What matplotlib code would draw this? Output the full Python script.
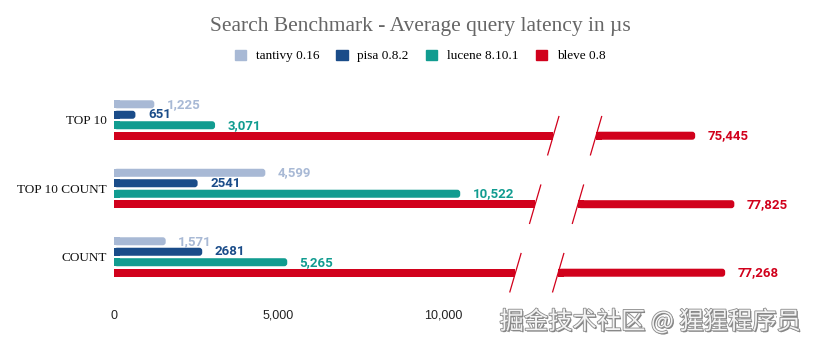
import numpy as np
import matplotlib.pyplot as plt
from matplotlib import patheffects as pe
from matplotlib.patches import Patch, FancyBboxPatch

categories = ['TOP 10', 'TOP 10 COUNT', 'COUNT']
series = ['tantivy 0.16', 'pisa 0.8.2', 'lucene 8.10.1', 'bleve 0.8']
tantivy = [1225, 4599, 1571]
pisa = [651, 2541, 2681]
lucene = [3071, 10522, 5265]
bleve = [75445, 77825, 77268]
colors = ['#a8b9d5', '#1a4c89', '#119c90', '#d1011c']
xticks = [0, 5000, 10000, 15000, 20000]

# bleve is off the scale: the axis is "broken" and the bars are squashed past the break
break_at = [14000, 13450, 12850]
gap = 1300


def squash(v):
    return 0.5 * v - 20060


fig = plt.figure(figsize=(8.18, 3.51), dpi=100)
ax = fig.add_axes([114 / 818, 1 - 300 / 351, 691 / 818, 215 / 351])
ax.set_xlim(0, 21000)
ax.set_ylim(2.628, -0.511)

y = np.arange(len(categories))
step = 0.153
h = 0.117
# rounded right end (~3 px), aspect converts x units to y units
rr = 90
asp = (3.139 / 215) / (21000 / 691)


def rbar(yc, w, left=0, color='k'):
    ax.add_patch(FancyBboxPatch((left, yc - h / 2), w, h, boxstyle=f'round,pad=0,rounding_size={rr}',
                                mutation_aspect=asp, fc=color, ec='none'))
    # keep the left end square
    ax.barh(yc, min(w, 2 * rr), left=left, height=h, color=color)


lab = dict(va='center', ha='left', fontweight='bold', family='Roboto', fontsize=9.5,
           textcoords='offset points', xytext=(9, 0))

for i, vals in enumerate([tantivy, pisa, lucene]):
    yy = y + (i - 1.5) * step
    for yv, v in zip(yy, vals):
        rbar(yv, v, color=colors[i])
        txt = str(v) if i == 1 else f'{v:,}'
        ax.annotate(txt, (v, yv), color=colors[i], **lab)

# bleve bars with the break marks
yb = y + 1.5 * step
for yv, v, b in zip(yb, bleve, break_at):
    end = squash(v)
    ax.barh(yv, b - gap / 2, height=h, color=colors[3])
    rbar(yv, end - (b + gap / 2), left=b + gap / 2, color=colors[3])
    for bx in (b - gap / 2, b + gap / 2):
        ax.plot([bx - 170, bx + 170], [yv + 0.28, yv - 0.28], color=colors[3], lw=0.9)
    ax.annotate(f'{v:,}', (end, yv), color=colors[3], **lab)

ax.set_xticks(xticks, [f'{t:,}' for t in xticks], family='Liberation Sans', fontsize=9, color='#222222')
ax.set_yticks(y, categories, family='Liberation Serif', fontsize=9.5, color='#111111')
ax.tick_params(length=0)
ax.tick_params(axis='x', pad=7)
ax.tick_params(axis='y', pad=5)
for s in ax.spines.values():
    s.set_visible(False)

fig.text(420 / 818, 1 - 27 / 351, 'Search Benchmark - Average query latency in µs',
         ha='center', va='center', family='Liberation Serif', fontsize=15.5, color='#666666')

handles = [Patch(color=c) for c in colors]
fig.legend(handles, series, loc='center', bbox_to_anchor=(420 / 818, 1 - 56 / 351), ncol=4,
           frameon=False, prop={'family': 'Liberation Serif', 'size': 9.5},
           handlelength=0.85, handleheight=0.85, handletextpad=0.75, columnspacing=1.3)

# watermark (sits on top of the last tick labels, like in the source image)
fig.text(650 / 818, 1 - 322 / 351, '掘金技术社区 @ 猩猩程序员', ha='center', va='center',
         family=['Noto Sans CJK SC', 'DejaVu Sans'], fontsize=17.5, color='#f4f4f4', zorder=10,
         path_effects=[pe.withStroke(linewidth=5, foreground='white'),
                       pe.SimplePatchShadow(offset=(1, -1), shadow_rgbFace='#666666', alpha=0.8),
                       pe.withStroke(linewidth=1.2, foreground='#8a8a8a')])

fig.savefig('out.png', dpi=100)
